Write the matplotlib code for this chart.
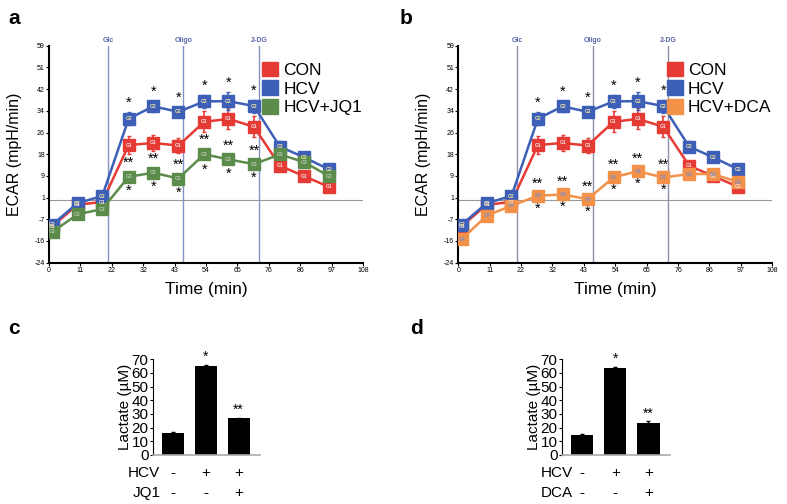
import numpy as np
import matplotlib
matplotlib.use("Agg")
import matplotlib.pyplot as plt
from matplotlib.patches import Patch

plt.rcParams['font.family'] = ['Liberation Sans', 'DejaVu Sans']

# Seahorse ECAR time course
time = [1.2, 9.8, 18.3, 27.4, 35.9, 44.5, 53.4, 61.7, 70.5, 79.4, 87.7, 96.3]
con = [-10.0, -1.8, -0.8, 21.0, 21.8, 20.8, 29.9, 31.0, 28.0, 13.1, 9.1, 5.0]
con_err = [1.0, 1.0, 1.0, 3.5, 3.0, 3.0, 4.0, 4.0, 4.0, 1.5, 1.0, 1.0]
hcv = [-9.4, -1.2, 1.5, 31.1, 35.8, 33.7, 37.7, 37.8, 35.9, 20.4, 16.3, 11.7]
hcv_err = [1.0, 1.0, 1.0, 2.5, 2.0, 2.0, 2.5, 3.5, 2.5, 2.0, 1.0, 1.0]
jq1 = [-12.2, -5.5, -3.5, 8.9, 10.4, 8.2, 17.5, 15.5, 13.7, 17.4, 14.5, 9.1]
jq1_err = [1.0, 1.0, 1.0, 1.5, 1.5, 1.5, 2.0, 1.5, 1.5, 1.5, 1.0, 1.0]
dca = [-15.0, -6.0, -2.2, 1.6, 2.1, 0.3, 8.6, 11.0, 8.6, 9.9, 9.9, 6.8]
dca_err = [1.0, 1.0, 1.0, 1.0, 1.0, 1.0, 1.0, 1.0, 1.0, 1.0, 1.0, 1.0]

injections = [20.3, 46.2, 72.2]
injection_names = ["Glc", "Oligo", "2-DG"]
x_ticks = np.linspace(0, 108, 11)
y_ticks = np.linspace(-24, 59, 11)

# significance marks for points 4-9
sig_pts = [3, 4, 5, 6, 7, 8]

# Lactate bars
lac_jq1 = [16.3, 65.1, 26.8]
lac_jq1_err = [0.5, 1.0, 0.6]
lac_dca = [14.6, 63.9, 23.2]
lac_dca_err = [0.4, 0.8, 1.5]
hcv_row = ["-", "+", "+"]
drug_row = ["-", "-", "+"]

RED = "#e63a35"
BLUE = "#3d5fb8"
GREEN = "#5b8c4c"
ORANGE = "#f39148"
VLINE = "#8590c4"

fig = plt.figure(figsize=(7.87, 5.04), dpi=100)


def ecar_panel(ax, drug, drug_err, drug_color, drug_tag, tag_color, drug_name, vcolor):
    series = [(con, con_err, RED, "G1", "#f4e0e0"),
              (hcv, hcv_err, BLUE, "G2", "#f0e6a0"),
              (drug, drug_err, drug_color, drug_tag, tag_color)]
    ax.axhline(0, color="#999999", lw=0.8, zorder=1)
    for x, name in zip(injections, injection_names):
        ax.axvline(x, color=vcolor, lw=1.0, zorder=1)
        ax.text(x, 59.5, name, ha="center", va="bottom", fontsize=5,
                color="#5a66aa", fontweight="bold")
    for vals, err, col, tag, tcol in series:
        ax.errorbar(time, vals, yerr=err, color=col, lw=1.8, marker="s",
                    markersize=8, markeredgecolor=col, capsize=1.5,
                    elinewidth=1.2, zorder=3)
        for t, v in zip(time, vals):
            ax.text(t, v, tag, ha="center", va="center", fontsize=3.5,
                    color=tcol, fontweight="bold", zorder=4)
    for i in sig_pts:
        ax.text(time[i], hcv[i] + hcv_err[i] + 0.8, "*", ha="center",
                va="bottom", fontsize=10.5)
        ax.text(time[i], drug[i] + drug_err[i] + 1.0, "**", ha="center",
                va="bottom", fontsize=10.5)
        ax.text(time[i], drug[i] - drug_err[i] - 1.2, "*", ha="center",
                va="top", fontsize=10.5)
    ax.set_xlim(0, 108)
    ax.set_ylim(-24, 59)
    ax.set_xticks(x_ticks)
    ax.set_xticklabels(["{:.0f}".format(round(v)) for v in x_ticks])
    ax.set_yticks(y_ticks)
    ax.set_yticklabels(["{:.0f}".format(round(v + 1e-9)) for v in y_ticks])
    ax.tick_params(labelsize=5, length=2, width=0.8, pad=1)
    for s in ["top", "right"]:
        ax.spines[s].set_visible(False)
    ax.spines["left"].set_linewidth(1.5)
    ax.spines["bottom"].set_linewidth(1.5)
    ax.set_xlabel("Time (min)", fontsize=12.5, labelpad=6)
    ax.set_ylabel("ECAR (mpH/min)", fontsize=11.5, labelpad=9)
    handles = [Patch(color=RED, label="CON"), Patch(color=BLUE, label="HCV"),
               Patch(color=drug_color, label=drug_name)]
    ax.legend(handles=handles, loc="upper right", bbox_to_anchor=(1.03, 0.975),
              frameon=False, fontsize=12.5, handlelength=0.9, handleheight=0.9,
              handletextpad=0.3, labelspacing=0.15, borderpad=0.1)


def lactate_panel(ax, vals, err, drug_label, label_x):
    pos = np.arange(len(vals))
    ax.bar(pos, vals, width=0.67, color="black", yerr=err, capsize=1.5,
           error_kw=dict(ecolor="black", lw=0.8))
    ax.text(pos[1], vals[1] + err[1] + 0.5, "*", ha="center", va="bottom", fontsize=10)
    ax.text(pos[2], vals[2] + err[2] + 0.5, "**", ha="center", va="bottom", fontsize=10)
    ax.set_xlim(-0.62, 2.65)
    ax.set_ylim(0, 70)
    ax.set_yticks(np.arange(0, 71, 10))
    ax.set_xticks([])
    ax.tick_params(axis="y", labelsize=11, length=2, pad=1)
    for s in ["top", "right"]:
        ax.spines[s].set_visible(False)
    ax.spines["bottom"].set_color("#aaaaaa")
    ax.spines["bottom"].set_linewidth(1.2)
    ax.set_ylabel("Lactate (µM)", fontsize=11, labelpad=0)
    tr = ax.get_xaxis_transform()
    for row, (name, marks) in enumerate([("HCV", hcv_row), (drug_label, drug_row)]):
        y = -0.19 - 0.21 * row
        ax.text(label_x, y, name, transform=tr, ha="right", va="center", fontsize=11)
        for p, m in zip(pos, marks):
            ax.text(p, y, m, transform=tr, ha="center", va="center", fontsize=11)


ax_a = fig.add_axes([0.0623, 0.4788, 0.399, 0.4305])
ecar_panel(ax_a, jq1, jq1_err, GREEN, "G3", "#b9c7b0", "HCV+JQ1", VLINE)
ax_b = fig.add_axes([0.5823, 0.4788, 0.399, 0.4305])
ecar_panel(ax_b, dca, dca_err, ORANGE, "G4", "#7d8fc8", "HCV+DCA", "#8d90aa")

ax_c = fig.add_axes([152.7 / 787, 1 - 455 / 504, 107.3 / 787, 95.7 / 504])
lactate_panel(ax_c, lac_jq1, lac_jq1_err, "JQ1", -0.39)
ax_d = fig.add_axes([561.7 / 787, 1 - 455 / 504, 108.3 / 787, 95.7 / 504])
lactate_panel(ax_d, lac_dca, lac_dca_err, "DCA", -0.27)

for letter, x, y in [("a", 8, 18), ("b", 400, 18), ("c", 8, 328), ("d", 410, 328)]:
    fig.text(x / 787, 1 - y / 504, letter, fontsize=15, fontweight="bold",
             ha="left", va="center")

plt.savefig("out.png", dpi=100)
